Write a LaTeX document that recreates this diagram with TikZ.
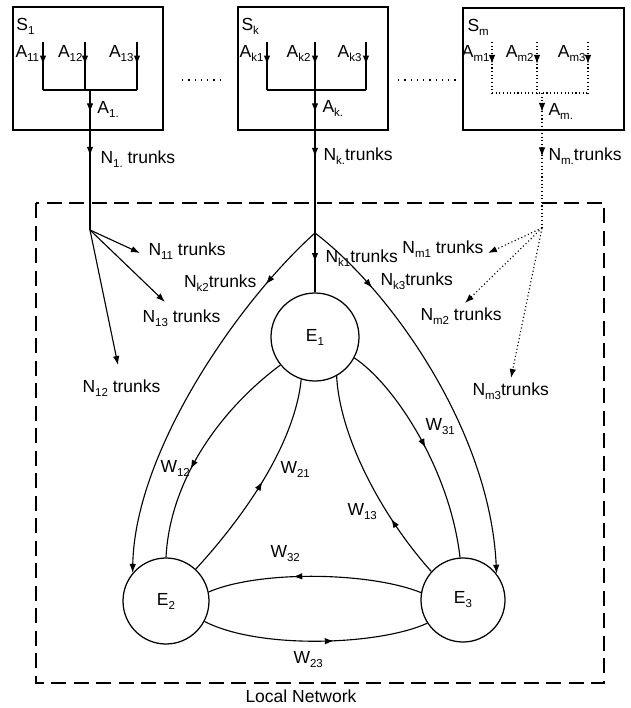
\documentclass[tikz,border=0pt]{standalone}
\usepackage{fontspec}
\setmainfont{Liberation Sans}
\usetikzlibrary{arrows.meta,decorations.markings}
\newcommand{\lowsub}[1]{\raisebox{-1.6pt}{\fontsize{4.6}{5}\selectfont #1}}
\tikzset{arrat/.style={postaction={decorate,decoration={markings,mark=at position #1 with {\arrow{>}}}}}}

\begin{document}
\begin{tikzpicture}[x=0.4pt,y=-0.4pt,>={Latex[length=3.6pt,width=2.6pt]},
    every node/.style={font=\fontsize{7}{8.2}\selectfont,inner sep=0pt}]
  \tikzstyle{sysbox}=[draw,line width=0.9pt]
  \tikzstyle{trunk}=[line width=0.45pt]
  \tikzstyle{mtrunk}=[line width=0.45pt,densely dotted]
  \tikzstyle{exch}=[draw,circle,line width=0.5pt]
  \tikzstyle{lbl}=[anchor=base west]
  \tikzstyle{lble}=[anchor=base east]
  \useasboundingbox (0,0) rectangle (631,708);

  % subscriber systems
  \draw[sysbox] (13,7) rectangle (163,130);
  \draw[sysbox] (238,7) rectangle (388,130);
  \draw[sysbox] (463,8) rectangle (624,130);
  \draw[dotted,line width=0.5pt] (182,80) -- (223,80);
  \draw[dotted,line width=0.5pt] (398,80) -- (457,80);

  \node[lbl] (s1) at (16,30) {S\lowsub{1}};
  \node[lbl] (sk) at (241,30) {S\lowsub{k}};
  \node[lbl] (sm) at (467,31) {S\lowsub{m}};

  \coordinate (a11) at (43,42);  \coordinate (a12) at (85,42);  \coordinate (a13) at (137,42);
  \coordinate (ak1) at (267,42); \coordinate (ak2) at (315,42); \coordinate (ak3) at (366,42);
  \coordinate (am1) at (492,42); \coordinate (am2) at (537,42); \coordinate (am3) at (588,42);
  \coordinate (b1) at (90,90);   \coordinate (bk) at (315,90);  \coordinate (bm) at (542,93);
  \coordinate (j1) at (90,230);  \coordinate (jk) at (315,233); \coordinate (jm) at (542,228);

  \draw[trunk,arrat=0.47] (a11) -- (a11 |- b1);
  \draw[trunk,arrat=0.47] (a12) -- (a12 |- b1);
  \draw[trunk,arrat=0.47] (a13) -- (a13 |- b1);
  \draw[trunk] (a11 |- b1) -- (a13 |- b1);
  \draw[trunk,arrat=0.47] (ak1) -- (ak1 |- bk);
  \draw[trunk,arrat=0.47] (ak2) -- (ak2 |- bk);
  \draw[trunk,arrat=0.47] (ak3) -- (ak3 |- bk);
  \draw[trunk] (ak1 |- bk) -- (ak3 |- bk);
  \draw[mtrunk,arrat=0.43] (am1) -- (am1 |- bm);
  \draw[mtrunk,arrat=0.43] (am2) -- (am2 |- bm);
  \draw[mtrunk,arrat=0.43] (am3) -- (am3 |- bm);
  \draw[mtrunk] (am1 |- bm) -- (am3 |- bm);

  \node[lbl] (la11) at (15,57) {A\lowsub{11}};
  \node[lble] (la12) at (83,57) {A\lowsub{12}};
  \node[lble] (la13) at (134,57) {A\lowsub{13}};
  \node[lble] (lak1) at (264,57) {A\lowsub{k1}};
  \node[lble] (lak2) at (311,57) {A\lowsub{k2}};
  \node[lble] (lak3) at (362,57) {A\lowsub{k3}};
  \node[lble] (lam1) at (490,57) {A\lowsub{m1}};
  \node[lble] (lam2) at (534,57) {A\lowsub{m2}};
  \node[lble] (lam3) at (586,57) {A\lowsub{m3}};
  \node[lbl] (la1) at (97,113) {A\lowsub{1.}};
  \node[lbl] (lak) at (322,112) {A\lowsub{k.}};
  \node[lbl] (lam) at (548,115) {A\lowsub{m.}};
  \node[lbl] (ln1) at (100,163) {N\lowsub{1.} trunks};
  \node[lbl] (lnk) at (323,160) {N\lowsub{k.}trunks};
  \node[lbl] (lnm) at (548,160) {N\lowsub{m.}trunks};

  % local network
  \draw[line width=0.8pt,dash pattern=on 6pt off 3pt] (36,203) rectangle (604,683);
  \node[lbl] (lnet) at (245,702) {Local Network};

  \node[exch,minimum size=35.2pt] (e1) at (315,337) {E\lowsub{1}};
  \node[exch,minimum size=34.4pt] (e2) at (166,601) {E\lowsub{2}};
  \node[exch,minimum size=33.6pt] (e3) at (463,600) {E\lowsub{3}};

  \draw[trunk,arrat=0.16,arrat=0.47] (b1) -- (j1);
  \draw[trunk,arrat=0.11,arrat=0.33,arrat=0.85] (bk) -- (e1.north);
  \draw[mtrunk,arrat=0.14,arrat=0.47] (bm) -- (jm);

  \coordinate (t11) at (140,253); \coordinate (t13) at (165,302); \coordinate (t12) at (118,365);
  \coordinate (tm1) at (488,253); \coordinate (tm2) at (465,303); \coordinate (tm3) at (511,378);
  \draw[trunk,->] (j1) -- (t11);
  \draw[trunk,->] (j1) -- (t13);
  \draw[trunk,->] (j1) -- (t12);
  \draw[mtrunk,->] (jm) -- (tm1);
  \draw[mtrunk,->] (jm) -- (tm2);
  \draw[mtrunk,->] (jm) -- (tm3);
  \draw[trunk,->,arrat=0.18] (jk) .. controls (240,300) and (135,450) .. (e2.140);
  \draw[trunk,->,arrat=0.2] (jk) .. controls (390,290) and (490,430) .. (e3.38);

  \node[lbl] (ln11) at (148,255) {N\lowsub{11} trunks};
  \node[lble] (lnk2) at (257,287) {N\lowsub{k2}trunks};
  \node[lbl] (ln13) at (142,322) {N\lowsub{13} trunks};
  \node[lbl] (ln12) at (82,392) {N\lowsub{12} trunks};
  \node[lbl] (lnk1) at (325,262) {N\lowsub{k1}trunks};
  \node[lbl] (lnk3) at (380,285) {N\lowsub{k3}trunks};
  \node[lble] (lnm1) at (484,253) {N\lowsub{m1} trunks};
  \node[lbl] (lnm2) at (420,320) {N\lowsub{m2} trunks};
  \node[lbl] (lnm3) at (472,395) {N\lowsub{m3}trunks};

  % traffic between exchanges
  \draw[trunk,arrat=0.6] (e1.219) .. controls (220,410) and (170,480) .. (e2.north);
  \draw[trunk,arrat=0.5] (e2.47) .. controls (250,510) and (295,440) .. (e1.252);
  \draw[trunk,arrat=0.3] (e3.138) .. controls (385,520) and (340,440) .. (e1.299);
  \draw[trunk,arrat=0.5] (e1.332) .. controls (395,385) and (450,470) .. (e3.94);
  \draw[trunk,arrat=0.6] (e3.170) .. controls (370,572) and (260,570) .. (e2.12);
  \draw[trunk,arrat=0.58] (e2.332) .. controls (260,650) and (380,645) .. (e3.213);

  \node[lbl] (lw12) at (160,472) {W\lowsub{12}};
  \node[lbl] (lw21) at (280,473) {W\lowsub{21}};
  \node[lbl] (lw31) at (425,430) {W\lowsub{31}};
  \node[lbl] (lw13) at (347,515) {W\lowsub{13}};
  \node[lbl] (lw32) at (270,557) {W\lowsub{32}};
  \node[lbl] (lw23) at (293,663) {W\lowsub{23}};
\end{tikzpicture}
\end{document}
